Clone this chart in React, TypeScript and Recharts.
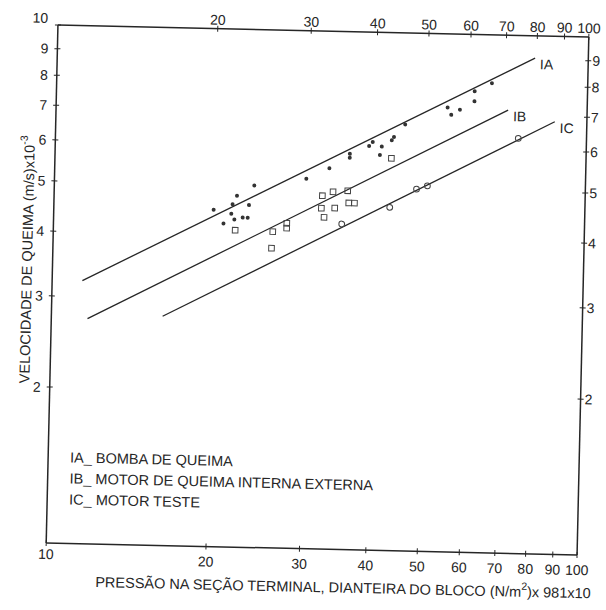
import { ScatterChart, Scatter, XAxis, YAxis, Legend } from "recharts";

// log-log plot, pressure (x) against burning rate (y)
const xTicksBottom = [10, 20, 30, 40, 50, 60, 70, 80, 90, 100];
const xTicksTop = [20, 30, 40, 50, 60, 70, 80, 90, 100];
const yTicksLeft = [2, 3, 4, 5, 6, 7, 8, 9, 10];
const yTicksRight = [2, 3, 4, 5, 6, 7, 8, 9];

// IA - bomba de queima (dots)
const bombaPts = [
    { x: 20.0, y: 4.47 }, { x: 20.9, y: 4.21 }, { x: 21.7, y: 4.59 },
    { x: 22.1, y: 4.77 }, { x: 21.6, y: 4.4 }, { x: 21.9, y: 4.29 },
    { x: 22.7, y: 4.33 }, { x: 23.2, y: 4.33 }, { x: 23.3, y: 4.58 },
    { x: 23.8, y: 5.0 }, { x: 29.8, y: 5.18 }, { x: 32.9, y: 5.44 },
    { x: 35.9, y: 5.81 }, { x: 35.9, y: 5.71 }, { x: 39.0, y: 6.03 },
    { x: 39.6, y: 6.14 }, { x: 40.9, y: 5.8 }, { x: 41.2, y: 6.02 },
    { x: 43.0, y: 6.2 }, { x: 43.4, y: 6.29 }, { x: 45.5, y: 6.66 },
    { x: 54.6, y: 7.21 }, { x: 55.5, y: 6.98 }, { x: 57.6, y: 7.15 },
    { x: 61.3, y: 7.77 }, { x: 61.3, y: 7.43 }, { x: 66.0, y: 8.07 },
];

// IB - motor de queima interna externa (squares)
const motorPts = [
    { x: 22.0, y: 4.09 }, { x: 25.9, y: 4.08 }, { x: 25.8, y: 3.79 },
    { x: 27.5, y: 4.24 }, { x: 27.5, y: 4.15 }, { x: 32.0, y: 4.81 },
    { x: 33.5, y: 4.9 }, { x: 31.9, y: 4.55 }, { x: 33.8, y: 4.56 },
    { x: 32.3, y: 4.37 }, { x: 35.7, y: 4.93 }, { x: 35.9, y: 4.67 },
    { x: 36.8, y: 4.67 }, { x: 43.0, y: 5.72 },
];

// IC - motor teste (circles)
const testePts = [
    { x: 34.9, y: 4.25 }, { x: 42.9, y: 4.6 }, { x: 48.1, y: 5.0 },
    { x: 50.4, y: 5.08 }, { x: 74.4, y: 6.33 },
];

// fitted straight lines, end points
const fitIA = [{ x: 11.4, y: 3.22 }, { x: 79.4, y: 9.06 }];
const fitIB = [{ x: 11.7, y: 2.72 }, { x: 71.0, y: 7.17 }];
const fitIC = [{ x: 16.2, y: 2.77 }, { x: 87.0, y: 6.84 }];

const curveNames = [
    { x: 79.4, y: 9.06, name: "IA" },
    { x: 71.0, y: 7.17, name: "IB" },
    { x: 87.0, y: 6.84, name: "IC" },
];

const legendRows = [
    "IA_ BOMBA DE QUEIMA",
    "IB_ MOTOR DE QUEIMA INTERNA EXTERNA",
    "IC_ MOTOR TESTE",
];

const INK = "#262626";
const FONT = "'Liberation Sans', Arial, sans-serif";

const makeTick = (side: string) => (props: any) => {
    const { x, y, payload } = props;
    const v = payload.value;
    const vertical = side === "left" || side === "right";
    let tx = x;
    let ty = y;
    let anchor = "middle";
    if (side === "left") {
        tx = x - (v === 10 ? 10 : 9);
        ty = y + (v === 10 ? -2 : 5);
        anchor = "end";
    } else if (side === "right") {
        tx = x + 4;
        ty = y + 5;
        anchor = "start";
    } else if (side === "top") {
        ty = y - 4;
    } else {
        ty = y + (v === 10 ? 16 : 20);
    }
    return (
        <g>
            {vertical ? (
                <line x1={x - 3} x2={x + 3} y1={y} y2={y} stroke={INK} strokeWidth={1} />
            ) : (
                <line x1={x} x2={x} y1={y - 3} y2={y + 3} stroke={INK} strokeWidth={1} />
            )}
            <text x={tx} y={ty} textAnchor={anchor} fontSize={14} fontFamily={FONT} fill={INK}>
                {v}
            </text>
        </g>
    );
};

const axisLine = { stroke: INK, strokeWidth: 1.5 };

const dot = (p: any) => <circle cx={p.cx} cy={p.cy} r={2} fill="#333" />;
const square = (p: any) => (
    <rect x={p.cx - 2.8} y={p.cy - 2.8} width={5.6} height={5.6} fill="none" stroke="#444" strokeWidth={1} />
);
const ring = (p: any) => (
    <circle cx={p.cx} cy={p.cy} r={2.9} fill="none" stroke="#444" strokeWidth={1} />
);
const noShape = () => <g />;
const nameTag = (p: any) => (
    <text x={p.cx + 5} y={p.cy + 11} fontSize={14} fontFamily={FONT} fill={INK}>
        {p.payload.name}
    </text>
);

const xTitle = (props: any) => {
    const { x, y } = props.viewBox;
    return (
        <text x={x + 50} y={y + 43} fontSize={14.5} fontFamily={FONT} fill={INK}>
            <tspan>PRESSÃO NA SEÇÃO TERMINAL, DIANTEIRA DO BLOCO (N/m</tspan>
            <tspan dy={-7} fontSize={10.5}>2</tspan>
            <tspan dy={7}>)x 981x10</tspan>
        </text>
    );
};

const yTitle = () => (
    <text transform="translate(31.5,266) rotate(-90)" textAnchor="middle" fontSize={14.5} fontFamily={FONT} fill={INK}>
        <tspan>VELOCIDADE DE QUEIMA (m/s)x10</tspan>
        <tspan dy={-7} fontSize={10.5}>-3</tspan>
    </text>
);

const legendBox = () => (
    <div style={{ fontFamily: FONT, fontSize: 14.5, color: INK, lineHeight: "21px", whiteSpace: "nowrap" }}>
        {legendRows.map((r) => (
            <div key={r}>{r}</div>
        ))}
    </div>
);

export default function App() {
    return (
        <div style={{ position: "absolute", left: 0, top: 0, width: 606, height: 610, overflow: "hidden", background: "#fff" }}>
            <div style={{ width: 606, height: 610, transform: "rotate(1.3deg)", transformOrigin: "317.6px 290px" }}>
                <ScatterChart width={606} height={610} margin={{ top: 0, right: 0, bottom: 0, left: 0 }}>
                    <XAxis
                        xAxisId="b"
                        type="number"
                        dataKey="x"
                        scale="log"
                        domain={[10, 100]}
                        allowDataOverflow
                        ticks={xTicksBottom}
                        interval={0}
                        height={61}
                        tickSize={0}
                        tickMargin={0}
                        tickLine={false}
                        axisLine={axisLine}
                        tick={makeTick("bottom")}
                        label={{ content: xTitle }}
                    />
                    <XAxis
                        xAxisId="t"
                        orientation="top"
                        type="number"
                        dataKey="x"
                        scale="log"
                        domain={[10, 100]}
                        allowDataOverflow
                        ticks={xTicksTop}
                        interval={0}
                        height={31}
                        tickSize={0}
                        tickMargin={0}
                        tickLine={false}
                        axisLine={axisLine}
                        tick={makeTick("top")}
                    />
                    <YAxis
                        yAxisId="l"
                        type="number"
                        dataKey="y"
                        scale="log"
                        domain={[1, 10]}
                        allowDataOverflow
                        ticks={yTicksLeft}
                        interval={0}
                        width={52}
                        tickSize={0}
                        tickMargin={0}
                        tickLine={false}
                        axisLine={axisLine}
                        tick={makeTick("left")}
                        label={{ content: yTitle }}
                    />
                    <YAxis
                        yAxisId="r"
                        orientation="right"
                        type="number"
                        dataKey="y"
                        scale="log"
                        domain={[1, 10]}
                        allowDataOverflow
                        ticks={yTicksRight}
                        interval={0}
                        width={23}
                        tickSize={0}
                        tickMargin={0}
                        tickLine={false}
                        axisLine={axisLine}
                        tick={makeTick("right")}
                    />
                    <Legend
                        layout="horizontal"
                        verticalAlign="middle"
                        align="center"
                        content={legendBox}
                        wrapperStyle={{ left: 74, top: 453, width: "auto", height: "auto" }}
                    />
                    <Scatter xAxisId="b" yAxisId="l" data={fitIA} line={{ stroke: INK, strokeWidth: 1.3 }} shape={noShape} isAnimationActive={false} />
                    <Scatter xAxisId="b" yAxisId="l" data={fitIB} line={{ stroke: INK, strokeWidth: 1.3 }} shape={noShape} isAnimationActive={false} />
                    <Scatter xAxisId="b" yAxisId="l" data={fitIC} line={{ stroke: INK, strokeWidth: 1.3 }} shape={noShape} isAnimationActive={false} />
                    <Scatter xAxisId="b" yAxisId="l" data={bombaPts} shape={dot} isAnimationActive={false} />
                    <Scatter xAxisId="b" yAxisId="l" data={motorPts} shape={square} isAnimationActive={false} />
                    <Scatter xAxisId="b" yAxisId="l" data={testePts} shape={ring} isAnimationActive={false} />
                    <Scatter xAxisId="t" yAxisId="r" data={curveNames} shape={nameTag} isAnimationActive={false} />
                </ScatterChart>
            </div>
        </div>
    );
}
